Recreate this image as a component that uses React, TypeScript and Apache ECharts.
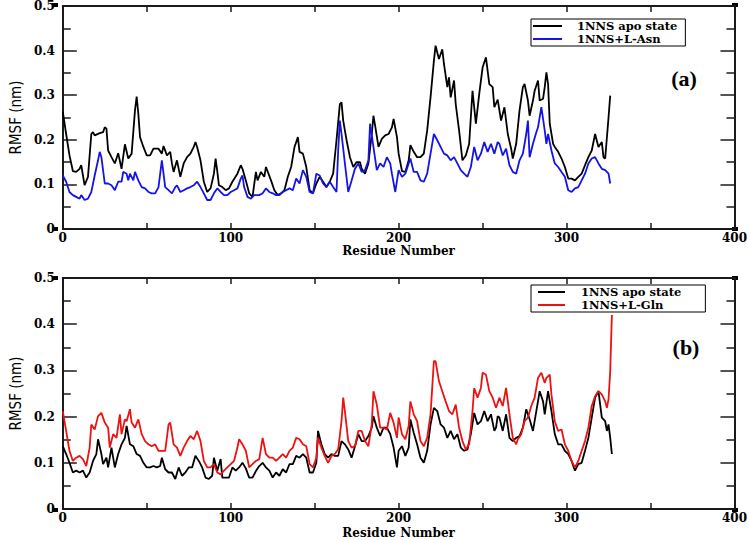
import React, { useEffect, useRef } from "react";
import * as echarts from "echarts";

// ---------- Panel (a) ----------
const resApoA = [0,2,4,6,8,10,11,13,15,17,18,19,22,24,25,26,27,29,31,33,35,37,39,41,43,44,45,46,48,50,52,54,57,59,60,62,64,65,66,68,70,72,74,76,78,79,80,82,84,86,88,90,91,92,93,95,97,99,101,104,106,107,109,111,113,115,116,118,120,121,124,126,128,130,132,134,136,138,140,141,143,145,147,149,151,153,155,157,159,161,163,165,166,167,169,171,173,175,177,178,180,182,184,185,186,188,190,192,194,196,197,199,200,202,204,206,207,209,211,213,215,217,219,221,222,224,225,226,227,229,230,231,233,234,236,238,240,242,244,246,248,250,252,254,256,257,259,261,263,265,267,268,270,272,274,275,277,278,280,281,283,284,286,287,288,289,290,292,293,295,297,299,301,303,305,307,309,311,313,315,317,319,321,322,323,325,326];
const rmsfApoA = [0.263,0.213,0.165,0.13,0.128,0.135,0.143,0.098,0.117,0.213,0.217,0.21,0.215,0.217,0.228,0.225,0.176,0.161,0.147,0.17,0.135,0.19,0.158,0.169,0.266,0.297,0.258,0.206,0.184,0.165,0.165,0.18,0.18,0.169,0.186,0.165,0.173,0.147,0.128,0.154,0.117,0.147,0.161,0.169,0.184,0.195,0.184,0.154,0.106,0.083,0.091,0.124,0.158,0.13,0.098,0.094,0.087,0.091,0.106,0.124,0.143,0.135,0.109,0.08,0.072,0.128,0.109,0.128,0.117,0.139,0.109,0.087,0.076,0.08,0.087,0.117,0.139,0.184,0.206,0.173,0.169,0.139,0.087,0.08,0.102,0.117,0.106,0.094,0.106,0.124,0.199,0.28,0.284,0.243,0.199,0.161,0.139,0.15,0.15,0.135,0.124,0.147,0.213,0.254,0.232,0.184,0.202,0.21,0.213,0.228,0.247,0.206,0.169,0.13,0.128,0.154,0.188,0.173,0.161,0.161,0.169,0.221,0.295,0.377,0.411,0.381,0.392,0.403,0.37,0.318,0.34,0.295,0.333,0.28,0.221,0.154,0.165,0.191,0.31,0.236,0.303,0.362,0.385,0.325,0.318,0.273,0.29,0.243,0.273,0.213,0.18,0.158,0.191,0.266,0.318,0.325,0.288,0.254,0.288,0.31,0.333,0.288,0.292,0.318,0.351,0.325,0.236,0.191,0.184,0.173,0.158,0.139,0.113,0.113,0.109,0.117,0.124,0.143,0.161,0.176,0.213,0.184,0.195,0.161,0.158,0.25,0.299];

const resAsn = [0,2,4,6,8,10,11,13,15,17,19,21,22,23,25,27,29,31,33,35,36,38,39,40,42,43,45,47,49,51,53,55,57,59,60,61,63,65,67,68,70,72,74,76,78,80,82,84,86,88,90,92,94,96,98,100,102,104,106,107,108,110,112,114,115,117,119,121,123,125,127,129,131,133,135,137,139,141,143,145,147,149,151,153,155,157,159,161,163,164,165,166,168,170,172,174,176,178,180,182,183,185,187,189,191,193,195,196,198,200,202,204,206,207,209,211,213,215,217,219,221,223,225,227,229,231,233,235,237,239,241,243,245,247,249,251,253,255,257,259,260,262,264,266,268,270,272,274,276,277,278,280,282,283,285,287,288,289,291,293,295,297,299,301,303,305,307,309,311,313,315,317,319,321,323,325,326];
const rmsfAsn = [0.12,0.106,0.083,0.076,0.072,0.068,0.076,0.065,0.068,0.083,0.12,0.154,0.173,0.161,0.102,0.102,0.098,0.087,0.106,0.106,0.128,0.124,0.109,0.124,0.109,0.128,0.109,0.094,0.091,0.083,0.08,0.08,0.094,0.154,0.124,0.094,0.087,0.08,0.094,0.098,0.083,0.087,0.091,0.094,0.098,0.106,0.094,0.08,0.065,0.065,0.08,0.091,0.083,0.076,0.076,0.083,0.087,0.091,0.113,0.12,0.094,0.072,0.068,0.076,0.076,0.076,0.08,0.091,0.083,0.08,0.076,0.076,0.083,0.087,0.091,0.087,0.113,0.102,0.132,0.117,0.083,0.08,0.124,0.12,0.102,0.094,0.106,0.094,0.083,0.176,0.243,0.213,0.147,0.083,0.109,0.135,0.147,0.128,0.132,0.154,0.236,0.184,0.132,0.147,0.139,0.161,0.147,0.124,0.083,0.132,0.117,0.124,0.147,0.158,0.128,0.128,0.109,0.106,0.124,0.169,0.213,0.199,0.184,0.169,0.165,0.154,0.161,0.147,0.132,0.124,0.117,0.139,0.184,0.154,0.169,0.195,0.173,0.191,0.169,0.195,0.191,0.165,0.18,0.143,0.128,0.124,0.154,0.169,0.213,0.243,0.161,0.191,0.217,0.228,0.273,0.221,0.191,0.213,0.176,0.147,0.139,0.128,0.117,0.087,0.083,0.091,0.094,0.109,0.124,0.147,0.158,0.161,0.147,0.135,0.132,0.124,0.102];

// ---------- Panel (b) ----------
const resApoB = [0,2,4,6,8,10,12,14,16,18,20,21,23,24,26,27,29,31,33,35,37,38,40,42,44,46,48,50,52,54,56,58,59,61,63,65,67,69,71,73,75,77,79,81,83,85,87,89,90,92,94,95,97,99,101,103,105,107,109,111,113,115,117,119,121,123,125,127,129,131,133,135,137,139,141,143,145,147,149,151,152,154,156,158,160,162,164,166,168,170,172,174,176,178,180,182,184,185,187,189,191,193,195,197,199,200,202,204,206,207,209,211,213,215,217,219,221,223,225,227,229,231,233,235,237,239,241,243,245,247,249,251,253,255,257,258,259,260,262,264,266,268,270,272,274,276,278,280,282,284,286,287,289,291,293,295,297,299,301,303,305,307,309,311,313,315,317,319,321,323,324,325,326,327];
const rmsfApoB = [0.136,0.119,0.1,0.079,0.083,0.079,0.083,0.068,0.079,0.104,0.119,0.151,0.119,0.097,0.111,0.09,0.133,0.09,0.119,0.14,0.154,0.18,0.14,0.136,0.119,0.115,0.1,0.09,0.09,0.093,0.09,0.093,0.111,0.086,0.079,0.079,0.065,0.09,0.072,0.079,0.09,0.09,0.115,0.104,0.09,0.068,0.065,0.072,0.111,0.083,0.108,0.068,0.068,0.068,0.09,0.083,0.09,0.1,0.088,0.068,0.068,0.082,0.093,0.1,0.09,0.083,0.068,0.079,0.072,0.086,0.079,0.097,0.097,0.115,0.111,0.119,0.111,0.079,0.079,0.1,0.169,0.14,0.119,0.111,0.119,0.115,0.115,0.147,0.14,0.129,0.111,0.136,0.162,0.147,0.147,0.158,0.176,0.201,0.176,0.158,0.176,0.176,0.162,0.133,0.09,0.126,0.136,0.115,0.133,0.194,0.165,0.14,0.111,0.1,0.126,0.183,0.219,0.212,0.183,0.176,0.154,0.169,0.151,0.162,0.133,0.126,0.129,0.162,0.208,0.183,0.19,0.212,0.19,0.205,0.169,0.176,0.201,0.198,0.169,0.205,0.154,0.147,0.154,0.158,0.176,0.216,0.194,0.169,0.212,0.255,0.233,0.205,0.255,0.212,0.162,0.14,0.14,0.126,0.119,0.104,0.083,0.097,0.1,0.126,0.154,0.198,0.241,0.255,0.198,0.19,0.169,0.183,0.154,0.119];

const resGln = [0,2,4,6,8,10,12,14,16,17,19,21,23,25,27,28,30,32,34,35,37,38,40,41,43,45,47,49,51,53,55,57,59,61,63,64,66,68,70,72,74,76,78,80,82,84,86,88,90,92,94,96,98,100,102,104,105,107,109,111,113,115,117,119,121,123,125,127,129,131,133,135,137,139,141,143,145,147,149,151,152,154,156,158,160,162,164,166,167,168,170,172,174,176,178,180,182,184,185,187,189,191,193,195,197,199,200,202,204,206,207,209,211,213,215,217,219,221,222,224,226,228,230,232,234,236,238,240,242,244,245,247,249,250,252,254,256,258,260,262,264,266,268,270,271,273,275,277,279,281,283,285,287,288,290,291,293,295,297,299,301,303,305,307,309,311,313,315,317,319,321,323,324,325,326,327];
const rmsfGln = [0.212,0.169,0.126,0.104,0.111,0.115,0.108,0.093,0.133,0.183,0.172,0.201,0.208,0.187,0.176,0.133,0.162,0.154,0.205,0.162,0.194,0.19,0.216,0.187,0.176,0.194,0.162,0.147,0.14,0.136,0.14,0.126,0.126,0.126,0.183,0.187,0.14,0.133,0.115,0.133,0.147,0.158,0.151,0.169,0.147,0.104,0.09,0.09,0.097,0.079,0.075,0.083,0.09,0.097,0.104,0.133,0.151,0.14,0.126,0.09,0.097,0.104,0.108,0.154,0.119,0.111,0.111,0.104,0.111,0.119,0.111,0.126,0.133,0.154,0.151,0.14,0.136,0.097,0.09,0.111,0.154,0.133,0.115,0.1,0.115,0.119,0.129,0.19,0.241,0.212,0.147,0.133,0.136,0.169,0.169,0.147,0.136,0.183,0.255,0.226,0.176,0.176,0.172,0.208,0.187,0.154,0.198,0.162,0.151,0.18,0.233,0.205,0.19,0.147,0.136,0.154,0.205,0.32,0.32,0.277,0.255,0.233,0.212,0.205,0.226,0.176,0.147,0.129,0.14,0.212,0.262,0.241,0.262,0.295,0.291,0.255,0.241,0.219,0.241,0.223,0.262,0.205,0.154,0.14,0.151,0.162,0.19,0.198,0.223,0.241,0.284,0.295,0.273,0.284,0.291,0.248,0.19,0.169,0.172,0.14,0.126,0.104,0.09,0.104,0.126,0.147,0.176,0.223,0.244,0.255,0.248,0.233,0.219,0.237,0.298,0.42];

const seriesNames = ["1NNS apo state", "1NNS+L-Asn", "1NNS+L-Gln"];
const panelLabels = ["(a)", "(b)"];

const zip = (xs: number[], ys: number[]) => xs.map((x, i) => [x, ys[i]]);

const SERIF = "'DejaVu Serif', serif";
const AX = "#1a1a1a";

function xAxes(grid: number, nameGap: number) {
  const base = {
    type: "value",
    gridIndex: grid,
    min: 0,
    max: 400,
    interval: 100,
    splitLine: { show: false },
    minorSplitLine: { show: false },
    axisLine: { show: true, onZero: false, lineStyle: { color: AX, width: 2 } },
    axisTick: { show: true, inside: true, length: 6, lineStyle: { color: AX, width: 1.5 } },
    minorTick: { show: true, splitNumber: 2, length: 6, lineStyle: { color: AX, width: 1.5 } },
  };
  return [
    {
      ...base,
      position: "bottom",
      name: "Residue Number",
      nameLocation: "middle",
      nameGap,
      nameTextStyle: { fontFamily: SERIF, fontWeight: "bold", fontSize: 12, color: "#000" },
      axisLabel: { fontFamily: SERIF, fontWeight: "bold", fontSize: 12, color: "#000", margin: 3 },
    },
    { ...base, position: "top", axisLabel: { show: false } },
  ];
}

function yAxes(grid: number) {
  const base = {
    type: "value",
    gridIndex: grid,
    min: 0,
    max: 0.5,
    interval: 0.1,
    splitLine: { show: false },
    minorSplitLine: { show: false },
    axisLine: { show: true, onZero: false, lineStyle: { color: AX, width: 2 } },
    axisTick: { show: true, inside: true, length: 14, lineStyle: { color: AX, width: 1.5 } },
    minorTick: { show: true, splitNumber: 2, length: 8, lineStyle: { color: AX, width: 1.5 } },
  };
  return [
    {
      ...base,
      position: "left",
      name: "RMSF (nm)",
      nameLocation: "middle",
      nameRotate: 90,
      nameGap: 37,
      nameTextStyle: {
        fontFamily: "'Liberation Sans Narrow', 'DejaVu Sans Condensed', sans-serif",
        fontSize: 15,
        color: "#000",
      },
      axisLabel: {
        fontFamily: SERIF,
        fontWeight: "bold",
        fontSize: 12,
        color: "#000",
        margin: 8,
        formatter: (v: number) => (v === 0 ? "0" : v.toFixed(1)),
      },
    },
    { ...base, position: "right", axisLabel: { show: false } },
  ];
}

function legend(names: string[], top: number, pad: number[], textPad: number, iconW: number) {
  return {
    data: names,
    orient: "vertical",
    left: 531,
    top,
    padding: pad,
    itemGap: 1,
    itemWidth: iconW,
    itemHeight: 2,
    icon: "rect",
    borderColor: "#000",
    borderWidth: 1,
    backgroundColor: "#fff",
    selectedMode: false,
    textStyle: {
      fontFamily: SERIF,
      fontWeight: "bold",
      fontSize: 11.5,
      lineHeight: 12,
      color: "#000",
      padding: [0, 0, 0, textPad],
    },
  };
}

function corner(x: number, y: number) {
  return { type: "rect", shape: { x: x - 3, y: y - 2, width: 6, height: 4 }, style: { fill: "#000" } };
}

export default function App() {
  const ref = useRef<HTMLDivElement>(null);
  useEffect(() => {
    if (!ref.current) return;
    const chart = echarts.init(ref.current, null, { renderer: "svg" });
    const line = (name: string, data: number[][], color: string, xi: number, yi: number, z: number) => ({
      type: "line",
      name,
      data,
      xAxisIndex: xi,
      yAxisIndex: yi,
      showSymbol: false,
      symbol: "none",
      z,
      lineStyle: { color, width: 1.8 },
      itemStyle: { color },
    });
    chart.setOption({
      animation: false,
      backgroundColor: "#fff",
      grid: [
        { left: 55, top: 5, width: 680, height: 224 },
        { left: 55, top: 278, width: 680, height: 232 },
      ],
      xAxis: [...xAxes(0, 14), ...xAxes(1, 18)],
      yAxis: [...yAxes(0), ...yAxes(1)],
      legend: [
        legend([seriesNames[0], seriesNames[1]], 19, [1, 8, 1, 2], 10, 29),
        legend([seriesNames[0], seriesNames[2]], 285, [1, 24, 1, 7], 11, 27),
      ],
      graphic: [
        {
          type: "text",
          x: 684,
          y: 78,
          style: { text: panelLabels[0], font: "bold 22px 'Liberation Serif', serif", fill: "#000", textAlign: "center", textVerticalAlign: "middle" },
        },
        {
          type: "text",
          x: 686,
          y: 347,
          style: { text: panelLabels[1], font: "bold 22px 'Liberation Serif', serif", fill: "#000", textAlign: "center", textVerticalAlign: "middle" },
        },
        corner(55, 5), corner(55, 229), corner(735, 5), corner(735, 229),
        corner(55, 278), corner(55, 510), corner(735, 278), corner(735, 510),
      ],
      series: [
        line(seriesNames[0], zip(resApoA, rmsfApoA), "#000000", 0, 0, 2),
        line(seriesNames[1], zip(resAsn, rmsfAsn), "#1414e6", 0, 0, 3),
        line(seriesNames[0], zip(resApoB, rmsfApoB), "#000000", 2, 2, 2),
        line(seriesNames[2], zip(resGln, rmsfGln), "#ee1111", 2, 2, 3),
      ],
    });
    return () => chart.dispose();
  }, []);
  return <div ref={ref} style={{ position: "fixed", left: 0, top: 0, width: 750, height: 540 }} />;
}
